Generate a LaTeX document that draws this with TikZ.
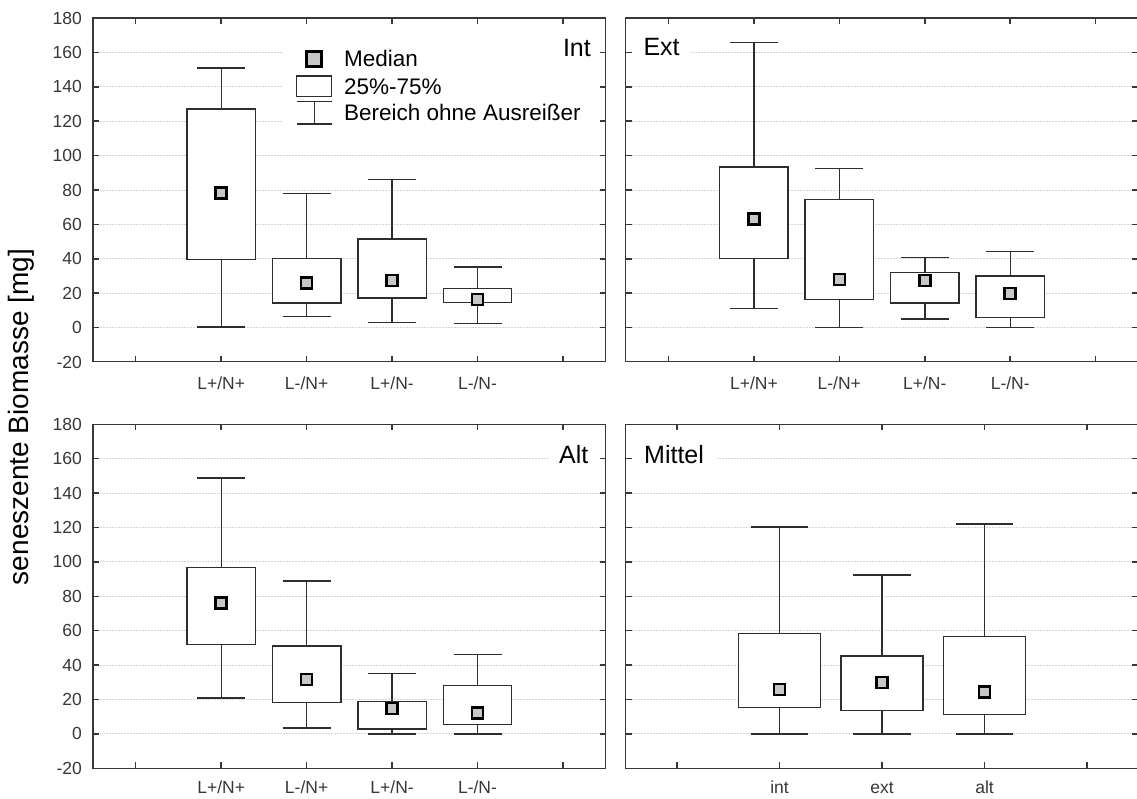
\documentclass[tikz,border=0pt]{standalone}
\usepackage{fontspec}
\setmainfont{Liberation Sans}
\newcommand\bplot[9]{% #1 y0, #2 cx, #3 half box, #4 half cap, #5 lo, #6 q1, #7 med, #8 q3, #9 hi
  \pgfmathsetmacro\bpyL{#1-1.72*#5}%
  \pgfmathsetmacro\bpyA{#1-1.72*#6}%
  \pgfmathsetmacro\bpyM{#1-1.72*#7}%
  \pgfmathsetmacro\bpyB{#1-1.72*#8}%
  \pgfmathsetmacro\bpyH{#1-1.72*#9}%
  \draw[wl] (#2,\bpyB) -- (#2,\bpyH) ({#2-#4},\bpyH) -- ({#2+#4},\bpyH);
  \draw[wl] (#2,\bpyA) -- (#2,\bpyL) ({#2-#4},\bpyL) -- ({#2+#4},\bpyL);
  \draw[wl,fill=white] ({#2-#3},\bpyA) rectangle ({#2+#3},\bpyB);
  \draw[medm] ({#2-5.5},{\bpyM-5.5}) rectangle ({#2+5.5},{\bpyM+5.5});
}
\begin{document}
\begin{tikzpicture}[x=1pt,y=-1pt,
  frm/.style={draw=black!78, line width=1.5pt},
  grd/.style={draw=black!16, line width=1pt, dash pattern=on 2pt off 1pt},
  wl/.style={draw=black!82, line width=1.4pt},
  medm/.style={draw=black, line width=2.5pt, fill=black!22},
  tkl/.style={font=\fontsize{17.5}{20}\selectfont, text=black!78, inner sep=0pt},
  ttl/.style={font=\fontsize{25}{28}\selectfont, inner sep=0pt},
  leg/.style={font=\fontsize{22.5}{26}\selectfont, inner sep=0pt, anchor=base west}]
\useasboundingbox (0,0) rectangle (1137,798);
\fill[white] (0,0) rectangle (1137,798);
% gridlines
\foreach \v in {0,20,...,160} {
  \draw[grd] (94,{327.6-1.72*\v}) -- (605,{327.6-1.72*\v});
  \draw[grd] (626,{327.6-1.72*\v}) -- (1137,{327.6-1.72*\v});
  \draw[grd] (94,{733.9-1.72*\v}) -- (605,{733.9-1.72*\v});
  \draw[grd] (626,{733.9-1.72*\v}) -- (1137,{733.9-1.72*\v});
}
% white areas behind labels / legend
\fill[white] (282,19) rectangle (604.5,140);
\fill[white] (627,19) rectangle (690,72);
\fill[white] (550,425.5) rectangle (604.5,478);
\fill[white] (627,425.5) rectangle (716.5,478);
% boxes: Int
\bplot{327.6}{221.2}{34.2}{24}{0.3}{39.5}{78.4}{127}{151}
\bplot{327.6}{306.6}{34.2}{24}{6.6}{14.3}{25.9}{40.1}{77.9}
\bplot{327.6}{392.1}{34.2}{24}{2.9}{17.2}{27.3}{51.5}{86}
\bplot{327.6}{477.5}{34.2}{24}{2.3}{14.5}{16.4}{22.6}{35.2}
% Ext
\bplot{327.6}{753.9}{34.2}{24}{11}{40.1}{63}{93.4}{165.6}
\bplot{327.6}{839.3}{34.2}{24}{0}{16.4}{27.9}{74.4}{92.6}
\bplot{327.6}{924.8}{34.2}{24}{5}{14.3}{27.3}{31.9}{40.6}
\bplot{327.6}{1010.2}{34.2}{24}{0}{5.8}{19.7}{30}{44.1}
% Alt
\bplot{733.9}{221.2}{34.2}{24}{20.9}{52}{76}{96.6}{148.8}
\bplot{733.9}{306.6}{34.2}{24}{3.4}{18.4}{31.7}{51}{89}
\bplot{733.9}{392.1}{34.2}{24}{0}{2.8}{14.9}{19}{35.2}
\bplot{733.9}{477.5}{34.2}{24}{0}{5.4}{12.2}{28.3}{46}
% Mittel
\bplot{733.9}{779.5}{41}{28.7}{0}{15.3}{25.7}{58.5}{120.3}
\bplot{733.9}{882.1}{41}{28.7}{0}{13.7}{29.8}{45.3}{92.4}
\bplot{733.9}{984.6}{41}{28.7}{0}{11.4}{24.4}{56.5}{122}
% frames
\draw[frm] (93,18) rectangle (605.7,361.7);
\draw[frm] (625.7,18) rectangle (1138.4,361.7);
\draw[frm] (93,424.3) rectangle (605.7,768.3);
\draw[frm] (625.7,424.3) rectangle (1138.4,768.3);
% y ticks
\foreach \v in {0,20,...,160} {
  \draw[frm] (93,{327.6-1.72*\v}) -- ++(6,0) (605.7,{327.6-1.72*\v}) -- ++(-6,0);
  \draw[frm] (625.7,{327.6-1.72*\v}) -- ++(6,0) (1138.4,{327.6-1.72*\v}) -- ++(-6,0);
  \draw[frm] (93,{733.9-1.72*\v}) -- ++(6,0) (605.7,{733.9-1.72*\v}) -- ++(-6,0);
  \draw[frm] (625.7,{733.9-1.72*\v}) -- ++(6,0) (1138.4,{733.9-1.72*\v}) -- ++(-6,0);
}
% x ticks
\foreach \t in {135.7,221.2,306.6,392.1,477.5,563} {
  \draw[frm] (\t,18) -- ++(0,6) (\t,361.7) -- ++(0,-6);
  \draw[frm] (\t,424.3) -- ++(0,6) (\t,768.3) -- ++(0,-6);
}
\foreach \t in {668.4,753.9,839.3,924.8,1010.2,1095.7} {
  \draw[frm] (\t,18) -- ++(0,6) (\t,361.7) -- ++(0,-6);
}
\foreach \t in {677,779.5,882.1,984.6,1087.2} {
  \draw[frm] (\t,424.3) -- ++(0,6) (\t,768.3) -- ++(0,-6);
}
% y tick labels
\foreach \v in {-20,0,20,...,180} {
  \node[tkl, anchor=east] (ta\v) at (82,{327.6-1.72*\v}) {\v};
  \node[tkl, anchor=east] (tb\v) at (82,{733.9-1.72*\v}) {\v};
}
% category labels
\node[tkl, anchor=base] (c1) at (221.2,389) {L+/N+};
\node[tkl, anchor=base] (c2) at (306.6,389) {L-/N+};
\node[tkl, anchor=base] (c3) at (392.1,389) {L+/N-};
\node[tkl, anchor=base] (c4) at (477.5,389) {L-/N-};
\node[tkl, anchor=base] (d1) at (753.9,389) {L+/N+};
\node[tkl, anchor=base] (d2) at (839.3,389) {L-/N+};
\node[tkl, anchor=base] (d3) at (924.8,389) {L+/N-};
\node[tkl, anchor=base] (d4) at (1010.2,389) {L-/N-};
\node[tkl, anchor=base] (e1) at (221.2,793) {L+/N+};
\node[tkl, anchor=base] (e2) at (306.6,793) {L-/N+};
\node[tkl, anchor=base] (e3) at (392.1,793) {L+/N-};
\node[tkl, anchor=base] (e4) at (477.5,793) {L-/N-};
\node[tkl, anchor=base] (f1) at (779.5,793) {int};
\node[tkl, anchor=base] (f2) at (882.1,793) {ext};
\node[tkl, anchor=base] (f3) at (984.6,793) {alt};
% panel titles
\node[ttl, anchor=base east] (tint) at (591,56.7) {Int};
\node[ttl, anchor=base west] (text) at (643.3,55.5) {Ext};
\node[ttl, anchor=base east] (talt) at (588.5,463.3) {Alt};
\node[ttl, anchor=base west] (tmit) at (644,463.3) {Mittel};
% legend
\draw[medm, line width=3pt] (306.5,51.5) rectangle (321.5,66);
\draw[wl] (296.7,76) rectangle (331.7,96.7);
\draw[wl] (296.7,101.7) -- (331.7,101.7) (314.3,101.7) -- (314.3,124) (297.3,124) -- (332.3,124);
\node[leg] (l1) at (344,66.7) {Median};
\node[leg] (l2) at (344,94.5) {25\%-75\%};
\node[leg] (l3) at (344,120.7) {Bereich ohne Ausreißer};
% y axis label
\node[font=\fontsize{28}{30}\selectfont, rotate=90, inner sep=0pt] (ylab) at (21,417) {seneszente Biomasse [mg]};
\end{tikzpicture}
\end{document}
